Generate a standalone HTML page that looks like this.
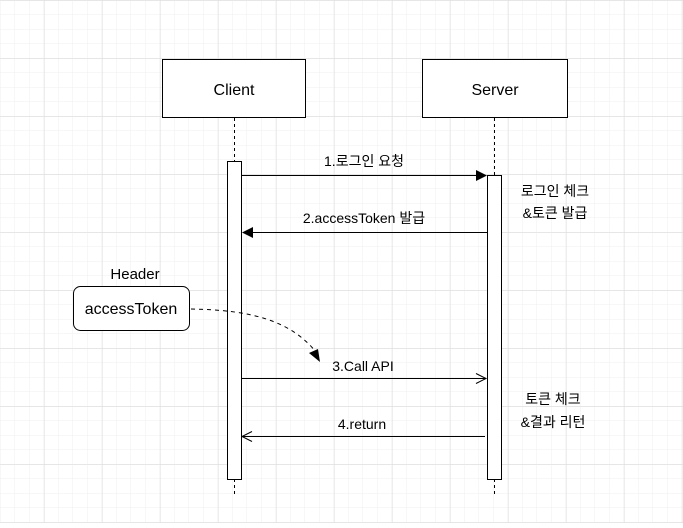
<!DOCTYPE html>
<html><head><meta charset="utf-8"><style>
body{margin:0;width:683px;height:523px;overflow:hidden;background:#fff;}
svg text{font-family:"Liberation Sans","Noto Sans CJK KR",sans-serif;fill:#000;}
</style></head><body>
<svg width="683" height="523" viewBox="0 0 683 523" xmlns="http://www.w3.org/2000/svg">
<defs>
<pattern id="minor" x="0.5" y="0.5" width="14.5" height="14.5" patternUnits="userSpaceOnUse">
<path d="M14.5 0V14.5M0 14.5H14.5" stroke="#efefef" stroke-width="1" fill="none"/>
</pattern>
<pattern id="major" x="44.5" y="0.5" width="58" height="58" patternUnits="userSpaceOnUse">
<path d="M0 0V58M0 0H58" stroke="#dcdcdc" stroke-width="1" fill="none"/>
</pattern>
</defs>
<rect width="683" height="523" fill="url(#minor)"/>
<rect width="683" height="523" fill="url(#major)"/>

<rect x="162.5" y="59.5" width="143" height="58" fill="#fff" stroke="#000"/>
<text x="234" y="95" font-size="16" text-anchor="middle">Client</text>
<rect x="422.5" y="59.5" width="145" height="58" fill="#fff" stroke="#000"/>
<text x="495" y="95" font-size="16" text-anchor="middle">Server</text>

<line x1="234.5" y1="118" x2="234.5" y2="161" stroke="#000" stroke-dasharray="3,3"/>
<line x1="234.5" y1="479" x2="234.5" y2="496" stroke="#000" stroke-dasharray="3,3"/>
<line x1="494.5" y1="118" x2="494.5" y2="175" stroke="#000" stroke-dasharray="3,3"/>
<line x1="494.5" y1="479" x2="494.5" y2="496" stroke="#000" stroke-dasharray="3,3"/>

<rect x="227.5" y="161.5" width="14" height="318" fill="#fff" stroke="#000"/>
<rect x="487.5" y="175.5" width="14" height="304" fill="#fff" stroke="#000"/>

<line x1="241" y1="175.5" x2="476" y2="175.5" stroke="#000"/>
<path d="M476 170 L487 175.5 L476 181 Z" fill="#000"/>
<text x="364" y="166" font-size="14" text-anchor="middle">1.로그인 요청</text>

<line x1="487" y1="232.5" x2="252" y2="232.5" stroke="#000"/>
<path d="M253 227 L242 232.5 L253 238 Z" fill="#000"/>
<text x="364" y="223" font-size="14" text-anchor="middle">2.accessToken 발급</text>

<line x1="241" y1="378.5" x2="486" y2="378.5" stroke="#000"/>
<path d="M476 373.5 L486 378.5 L476 383.5" fill="none" stroke="#000"/>
<text x="363" y="371" font-size="14" text-anchor="middle">3.Call API</text>

<line x1="485" y1="436.5" x2="242" y2="436.5" stroke="#000"/>
<path d="M252 431.5 L242 436.5 L252 441.5" fill="none" stroke="#000"/>
<text x="362" y="429" font-size="14" text-anchor="middle">4.return</text>

<text x="555" y="196" font-size="14" text-anchor="middle">로그인 체크</text>
<text x="555" y="218" font-size="14" text-anchor="middle">&amp;토큰 발급</text>
<text x="553" y="404" font-size="14" text-anchor="middle">토큰 체크</text>
<text x="553" y="427" font-size="14" text-anchor="middle">&amp;결과 리턴</text>

<text x="135" y="279" font-size="15" text-anchor="middle">Header</text>
<rect x="73.5" y="286.5" width="116" height="44" rx="7" fill="#fff" stroke="#000"/>
<text x="131" y="314" font-size="16" text-anchor="middle">accessToken</text>

<path d="M191 309 C 250 310, 290 320, 316 352" fill="none" stroke="#000" stroke-dasharray="4,4"/>
<path d="M309 353 L320 362 L318 349 Z" fill="#000"/>
</svg>
</body></html>
